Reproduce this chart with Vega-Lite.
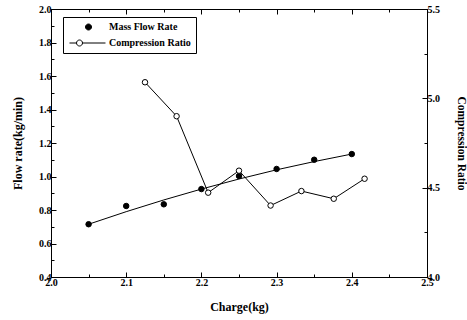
{
  "$schema": "https://vega.github.io/schema/vega-lite/v6.json",
  "width": 376,
  "height": 268,
  "autosize": {"type": "none"},
  "padding": {"left": 51, "top": 9, "right": 40, "bottom": 43},
  "background": "white",
  "config": {
    "view": {"stroke": "black", "strokeWidth": 1},
    "axis": {
      "grid": false,
      "domainColor": "black",
      "domainWidth": 1,
      "tickColor": "black",
      "tickWidth": 1,
      "labelFont": "Liberation Serif",
      "labelFontWeight": "bold",
      "labelFontSize": 10,
      "labelColor": "black",
      "titleFont": "Liberation Serif",
      "titleFontWeight": "bold",
      "titleFontSize": 12,
      "titleColor": "black"
    }
  },
  "datasets": {
    "fit": [
      {"charge": 2.05, "flow": 0.715},
      {"charge": 2.10, "flow": 0.790},
      {"charge": 2.15, "flow": 0.860},
      {"charge": 2.20, "flow": 0.925},
      {"charge": 2.25, "flow": 0.985},
      {"charge": 2.30, "flow": 1.040},
      {"charge": 2.35, "flow": 1.089},
      {"charge": 2.40, "flow": 1.134}
    ],
    "mass": [
      {"charge": 2.05, "flow": 0.715, "series": "Mass Flow Rate"},
      {"charge": 2.10, "flow": 0.824, "series": "Mass Flow Rate"},
      {"charge": 2.15, "flow": 0.834, "series": "Mass Flow Rate"},
      {"charge": 2.20, "flow": 0.925, "series": "Mass Flow Rate"},
      {"charge": 2.25, "flow": 1.003, "series": "Mass Flow Rate"},
      {"charge": 2.30, "flow": 1.045, "series": "Mass Flow Rate"},
      {"charge": 2.35, "flow": 1.100, "series": "Mass Flow Rate"},
      {"charge": 2.40, "flow": 1.134, "series": "Mass Flow Rate"}
    ],
    "ratio": [
      {"charge": 2.125, "ratio": 5.09, "series": "Compression Ratio"},
      {"charge": 2.167, "ratio": 4.90, "series": "Compression Ratio"},
      {"charge": 2.209, "ratio": 4.472, "series": "Compression Ratio"},
      {"charge": 2.250, "ratio": 4.595, "series": "Compression Ratio"},
      {"charge": 2.292, "ratio": 4.40, "series": "Compression Ratio"},
      {"charge": 2.333, "ratio": 4.481, "series": "Compression Ratio"},
      {"charge": 2.376, "ratio": 4.438, "series": "Compression Ratio"},
      {"charge": 2.417, "ratio": 4.55, "series": "Compression Ratio"}
    ]
  },
  "layer": [
    {
      "data": {"name": "fit"},
      "mark": {"type": "line", "color": "black", "strokeWidth": 1},
      "encoding": {
        "x": {
          "field": "charge", "type": "quantitative",
          "scale": {"domain": [2.0, 2.5], "nice": false, "zero": false},
          "axis": {
            "orient": "bottom",
            "values": [2.0, 2.05, 2.1, 2.15, 2.2, 2.25, 2.3, 2.35, 2.4, 2.45, 2.5],
            "labelExpr": "abs(datum.value*10 - round(datum.value*10)) < 0.001 ? format(datum.value, '.1f') : ''",
            "tickSize": {"condition": {"test": "abs(datum.value*10 - round(datum.value*10)) < 0.001", "value": -5}, "value": -3},
            "labelPadding": 5,
            "labelFlush": false,
            "labelOverlap": false,
            "title": "Charge(kg)",
            "titleX": 188,
            "titleY": 29,
            "titleBaseline": "middle",
            "titleAlign": "center"
          }
        },
        "y": {
          "field": "flow", "type": "quantitative",
          "scale": {"domain": [0.4, 2.0], "nice": false, "zero": false},
          "axis": {
            "orient": "left",
            "values": [0.4, 0.5, 0.6, 0.7, 0.8, 0.9, 1.0, 1.1, 1.2, 1.3, 1.4, 1.5, 1.6, 1.7, 1.8, 1.9, 2.0],
            "labelExpr": "round(datum.value*10) % 2 === 0 ? format(datum.value, '.1f') : ''",
            "tickSize": {"condition": {"test": "round(datum.value*10) % 2 === 0", "value": -5}, "value": -3},
            "labelPadding": 5,
            "labelFlush": false,
            "labelOverlap": false,
            "title": "Flow rate(kg/min)",
            "titleX": -34,
            "titleY": 134,
            "titleAngle": -90,
            "titleBaseline": "middle",
            "titleAlign": "center"
          }
        }
      }
    },
    {
      "data": {"name": "mass"},
      "mark": {"type": "point", "filled": true, "size": 30, "stroke": "black", "strokeWidth": 1, "opacity": 1},
      "encoding": {
        "x": {
          "field": "charge", "type": "quantitative",
          "axis": {
            "orient": "top",
            "values": [2.0, 2.05, 2.1, 2.15, 2.2, 2.25, 2.3, 2.35, 2.4, 2.45, 2.5],
            "labels": false,
            "title": null,
            "tickSize": {"condition": {"test": "abs(datum.value*10 - round(datum.value*10)) < 0.001", "value": -5}, "value": -3}
          }
        },
        "y": {
          "field": "flow", "type": "quantitative",
          "scale": {"domain": [0.4, 2.0], "nice": false, "zero": false},
          "axis": null
        },
        "fill": {
          "field": "series", "type": "nominal",
          "scale": {"domain": ["Mass Flow Rate", "Compression Ratio"], "range": ["black", "white"]},
          "legend": {
            "title": null,
            "orient": "none",
            "legendX": 12,
            "legendY": 8,
            "strokeColor": "black",
            "fillColor": "white",
            "padding": 5,
            "symbolSize": 36,
            "symbolOffset": 0,
            "symbolType": {"expr": "datum.value === 'Mass Flow Rate' ? 'M4.17,0A1,1 0 1,0 6.17,0A1,1 0 1,0 4.17,0Z' : 'M-1.17,0H1.17M3.17,0H10.83M1.17,0A1,1 0 1,0 3.17,0A1,1 0 1,0 1.17,0Z'"},
            "symbolStrokeColor": "black",
            "symbolStrokeWidth": 1,
            "labelFont": "Liberation Serif",
            "labelFontWeight": "bold",
            "labelFontSize": 10,
            "labelColor": "black",
            "labelOffset": 31,
            "labelExpr": "datum.label + '\u00a0\u00a0\u00a0\u00a0\u00a0\u00a0\u00a0\u00a0'",
            "rowPadding": 5
          }
        }
      }
    },
    {
      "data": {"name": "ratio"},
      "mark": {"type": "line", "color": "black", "strokeWidth": 1},
      "encoding": {
        "x": {"field": "charge", "type": "quantitative", "axis": null},
        "y": {
          "field": "ratio", "type": "quantitative",
          "scale": {"domain": [4.0, 5.5], "nice": false, "zero": false},
          "axis": {
            "orient": "right",
            "values": [4.0, 4.25, 4.5, 4.75, 5.0, 5.25, 5.5],
            "labelExpr": "abs(datum.value*2 - round(datum.value*2)) < 0.001 ? format(datum.value, '.1f') : ''",
            "tickSize": {"condition": {"test": "abs(datum.value*2 - round(datum.value*2)) < 0.001", "value": -5}, "value": -3},
            "labelPadding": 5,
            "labelFlush": false,
            "labelOverlap": false,
            "title": "Compression Ratio",
            "titleFontSize": 11.5,
            "titleX": 33,
            "titleY": 134,
            "titleAngle": 90,
            "titleBaseline": "middle",
            "titleAlign": "center"
          }
        }
      }
    },
    {
      "data": {"name": "ratio"},
      "mark": {"type": "point", "filled": true, "size": 30, "stroke": "black", "strokeWidth": 1, "opacity": 1},
      "encoding": {
        "x": {"field": "charge", "type": "quantitative", "axis": null},
        "y": {
          "field": "ratio", "type": "quantitative",
          "scale": {"domain": [4.0, 5.5], "nice": false, "zero": false},
          "axis": null
        },
        "fill": {"field": "series", "type": "nominal"}
      }
    }
  ],
  "resolve": {
    "scale": {"y": "independent"},
    "axis": {"x": "independent", "y": "independent"}
  }
}
